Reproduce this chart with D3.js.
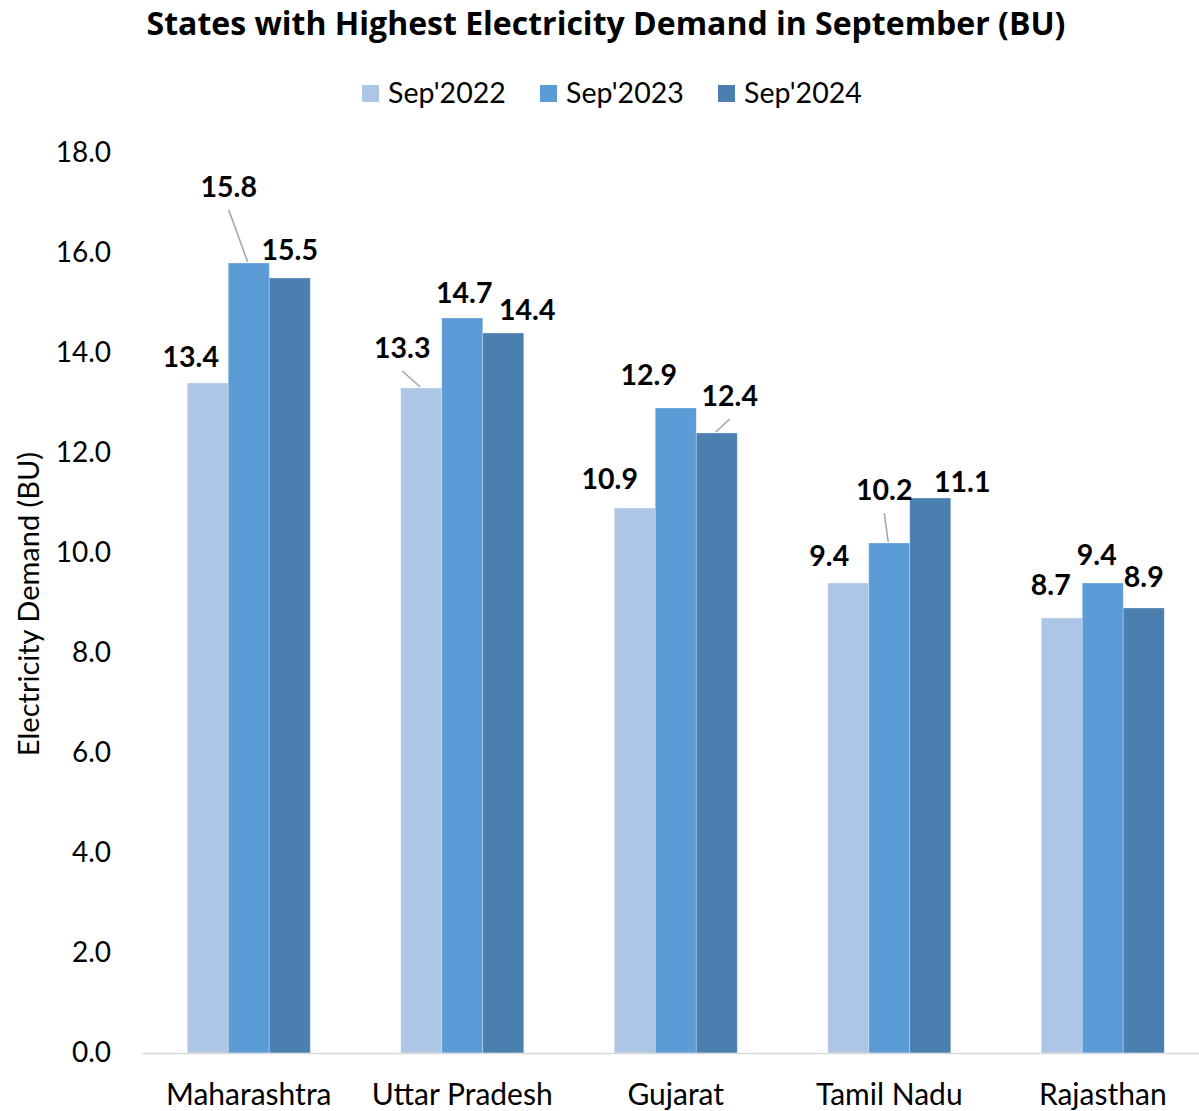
<!DOCTYPE html>
<html>
<head>
<meta charset="utf-8">
<script src="https://cdn.jsdelivr.net/npm/d3@7"></script>
<style>
  html, body { margin: 0; padding: 0; background: #fff; }
  svg { display: block; font-family: Lato, "Open Sans", sans-serif; }
</style>
</head>
<body>
<svg id="chart" width="1199" height="1111"></svg>
<script>
// Monthly electricity demand (billion units) for the top states
const states = ["Maharashtra", "Uttar Pradesh", "Gujarat", "Tamil Nadu", "Rajasthan"];
const seriesNames = ["Sep'2022", "Sep'2023", "Sep'2024"];
const sep2022 = [13.4, 13.3, 10.9, 9.4, 8.7];
const sep2023 = [15.8, 14.7, 12.9, 10.2, 9.4];
const sep2024 = [15.5, 14.4, 12.4, 11.1, 8.9];
const yTicks = [0, 2, 4, 6, 8, 10, 12, 14, 16, 18];

const seriesValues = [sep2022, sep2023, sep2024];
const colors = ["#adc6e6", "#5b9bd6", "#4a7fb0"];

// Label nudges [dx, dy] per series and state, relative to bar centre / bar top
const labelNudge = [
  [[-17, -16], [-19, -30], [-25, -19], [-19, -17], [-11, -23]],
  [[-20, -66], [2, -15], [-27, -23], [-5, -43], [-6, -18]],
  [[0, -18], [24, -13], [13, -27], [32, -6], [0, -21]]
];
// Labels that sit away from their bar get a leader line: [series, state]
const leaders = [[1, 0], [0, 1], [2, 2], [1, 3]];

const svg = d3.select("#chart");
const plotLeft = 142, plotRight = 1209.5, plotTop = 153, plotBottom = 1053;
const font = "Lato, 'Open Sans', sans-serif";

const x0 = d3.scaleBand().domain(states).range([plotLeft, plotRight])
  .paddingInner(90.5 / 213.5).paddingOuter(45.25 / 213.5);
const x1 = d3.scaleBand().domain(seriesNames).range([0, x0.bandwidth()]);
const y = d3.scaleLinear().domain([0, 18]).range([plotBottom, plotTop]);
const barCenter = (k, si) => x0(states[si]) + x1(seriesNames[k]) + x1.bandwidth() / 2;

// Title
svg.append("text")
  .attr("x", 606).attr("y", 35)
  .attr("text-anchor", "middle")
  .attr("font-family", "'Open Sans', Lato, sans-serif")
  .attr("font-size", 32).attr("font-weight", 700).attr("fill", "#000")
  .text("States with Highest Electricity Demand in September (BU)");

// Legend
const legend = svg.append("g");
const legendX = [362, 540, 718];
seriesNames.forEach((name, i) => {
  const g = legend.append("g").attr("transform", `translate(${legendX[i]},85)`);
  g.append("rect").attr("width", 17).attr("height", 17).attr("fill", colors[i]);
  g.append("text").attr("x", 26).attr("y", 18)
    .attr("font-size", 28.5).attr("fill", "#000").text(name);
});

// Y axis (labels only)
const yAxis = svg.append("g")
  .attr("transform", `translate(${plotLeft},0)`)
  .call(d3.axisLeft(y).tickValues(yTicks).tickFormat(d3.format(".1f")).tickSize(0).tickPadding(31));
yAxis.select(".domain").remove();
yAxis.selectAll("text").attr("font-size", 28).attr("fill", "#000").attr("font-family", font);

// Y axis title
svg.append("text")
  .attr("transform", `translate(39,${(plotTop + plotBottom) / 2 + 1}) rotate(-90)`)
  .attr("text-anchor", "middle")
  .attr("font-size", 29).attr("fill", "#000")
  .text("Electricity Demand (BU)");

// Bars
const groups = svg.append("g").selectAll("g")
  .data(states)
  .join("g")
  .attr("transform", d => `translate(${x0(d)},0)`);

groups.selectAll("rect")
  .data((d, si) => seriesNames.map((s, k) => ({ series: s, k, si, value: seriesValues[k][si] })))
  .join("rect")
  .attr("x", d => x1(d.series))
  .attr("width", x1.bandwidth())
  .attr("y", d => y(d.value))
  .attr("height", d => y(0) - y(d.value))
  .attr("fill", d => colors[d.k])
  .attr("stroke", "rgba(255,255,255,0.35)")
  .attr("stroke-width", 0.8);

// X axis
const xAxis = svg.append("g")
  .attr("transform", `translate(0,${plotBottom})`)
  .call(d3.axisBottom(x0).tickSize(0).tickPadding(31));
xAxis.select(".domain").attr("stroke", "#d9d9d9").attr("stroke-width", 1.5);
xAxis.selectAll("text").attr("font-size", 30).attr("fill", "#000").attr("font-family", font);

// Leader lines from the displaced labels down to their bars
leaders.forEach(([k, si]) => {
  const bx = barCenter(k, si);
  const by = y(seriesValues[k][si]);
  const [dx, dy] = labelNudge[k][si];
  svg.append("line")
    .attr("x1", bx + dx).attr("y1", by + dy + 13)
    .attr("x2", bx - 1).attr("y2", by - 1)
    .attr("stroke", "#a6a6a6").attr("stroke-width", 1.6);
});

// Value labels
seriesValues.forEach((vals, k) => {
  vals.forEach((v, si) => {
    const [dx, dy] = labelNudge[k][si];
    svg.append("text")
      .attr("x", barCenter(k, si) + dx).attr("y", y(v) + dy)
      .attr("text-anchor", "middle")
      .attr("font-size", 28.5).attr("font-weight", 700).attr("fill", "#000")
      .text(d3.format(".1f")(v));
  });
});
</script>
</body>
</html>
